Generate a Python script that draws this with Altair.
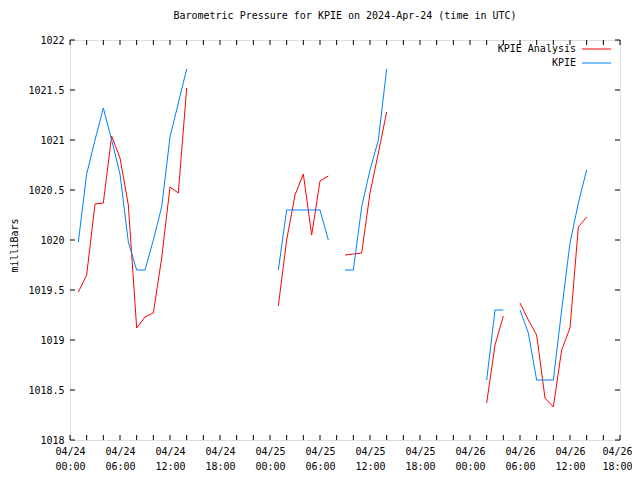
import altair as alt
import pandas as pd

FONT = "DejaVu Sans Mono"

# Hours after 2024-04-24 00:00 UTC for each continuous run of data
seg_hours = {
    "a": [1, 2, 3, 4, 5, 6, 7, 8, 9, 10, 11, 12, 13, 14],
    "b": [25, 26, 27, 28, 29, 30, 31],
    "c": [33, 34, 35, 36, 37, 38],
    "d": [50, 51, 52],
    "e": [54, 55, 56, 57, 58, 59, 60, 61, 62],
}

analysis_vals = {
    "a": [1019.48, 1019.65, 1020.36, 1020.37, 1021.04, 1020.82, 1020.35,
          1019.12, 1019.23, 1019.27, 1019.82, 1020.53, 1020.47, 1021.52],
    "b": [1019.34, 1020.0, 1020.45, 1020.66, 1020.05, 1020.59, 1020.64],
    "c": [1019.85, 1019.86, 1019.87, 1020.47, 1020.87, 1021.28],
    "d": [1018.37, 1018.95, 1019.24],
    "e": [1019.37, 1019.2, 1019.05, 1018.42, 1018.33, 1018.9, 1019.12,
          1020.13, 1020.23],
}

kpie_vals = {
    "a": [1019.98, 1020.66, 1021.0, 1021.32, 1021.0, 1020.66, 1019.98,
          1019.7, 1019.7, 1020.0, 1020.33, 1021.03, 1021.37, 1021.71],
    "b": [1019.7, 1020.3, 1020.3, 1020.3, 1020.3, 1020.3, 1020.0],
    "c": [1019.7, 1019.7, 1020.33, 1020.7, 1021.0, 1021.71],
    "d": [1018.6, 1019.3, 1019.3],
    "e": [1019.3, 1019.07, 1018.6, 1018.6, 1018.6, 1019.3, 1019.97,
          1020.37, 1020.7],
}

series_names = ["KPIE Analysis", "KPIE"]
series_colors = ["#ff0000", "#0080ff"]

x_label_hours = [0, 6, 12, 18, 24, 30, 36, 42, 48, 54, 60, 66]
x_minor_hours = list(range(0, 67, 2))
y_tick_vals = [1018, 1018.5, 1019, 1019.5, 1020, 1020.5, 1021, 1021.5, 1022]

TITLE = "Barometric Pressure for KPIE on 2024-Apr-24 (time in UTC)"


def make_df(vals, name):
    rows = []
    for seg, hrs in seg_hours.items():
        for h, v in zip(hrs, vals[seg]):
            rows.append({"hour": h, "value": v, "series": name, "seg": seg})
    return pd.DataFrame(rows)


df_an = make_df(analysis_vals, series_names[0])
df_kp = make_df(kpie_vals, series_names[1])

x_scale = alt.Scale(domain=[0, 66], nice=False, zero=False)
y_scale = alt.Scale(domain=[1018, 1022], nice=False, zero=False)

x_axis = alt.Axis(
    values=x_label_hours,
    labelExpr="['04/' + (24 + floor(datum.value / 24)), "
              "(datum.value % 24 < 10 ? '0' : '') + (datum.value % 24) + ':00']",
    title=None,
    grid=False,
    domain=False,
    ticks=False,
    labelPadding=6,
    labelLineHeight=15,
    labelFlush=False,
    labelOverlap=False,
    labelAngle=0,
    labelOffset={"condition": {"test": "datum.value == 66", "value": -3}, "value": 0},
    labelFont=FONT,
    labelFontSize=10,
    labelColor="black",
)

y_axis = alt.Axis(
    values=y_tick_vals,
    format="~f",
    title="milliBars",
    grid=False,
    domain=False,
    ticks=False,
    titleX=-56,
    titleY=205,
    titleAngle=270,
    titleAlign="center",
    titleBaseline="middle",
    titleFont=FONT,
    titleFontSize=10,
    titleFontWeight="normal",
    titleColor="black",
    labelPadding=6,
    labelFont=FONT,
    labelFontSize=10,
    labelColor="black",
)

X = alt.X("hour:Q", scale=x_scale, axis=x_axis)
Y = alt.Y("value:Q", scale=y_scale, axis=y_axis)

line_an = alt.Chart(df_an).mark_line(strokeWidth=1, color=series_colors[0]).encode(
    x=X, y=Y, detail="seg:N",
)

line_kp = alt.Chart(df_kp).mark_line(strokeWidth=1, color=series_colors[1]).encode(
    x=X, y=Y, detail="seg:N",
)

xt_df = pd.DataFrame({"hour": x_minor_hours})
yt_df = pd.DataFrame({"value": y_tick_vals})

ticks_top = alt.Chart(xt_df).mark_rule(color="black", strokeWidth=1).encode(
    x=X, y=alt.value(0), y2=alt.value(5))
ticks_bot = alt.Chart(xt_df).mark_rule(color="black", strokeWidth=1).encode(
    x=X, y=alt.value(395), y2=alt.value(400))
ticks_left = alt.Chart(yt_df).mark_rule(color="black", strokeWidth=1).encode(
    y=Y, x=alt.value(0), x2=alt.value(5))
ticks_right = alt.Chart(yt_df).mark_rule(color="black", strokeWidth=1).encode(
    y=Y, x=alt.value(545), x2=alt.value(550))

legend_layers = []
for i, (name, col) in enumerate(zip(series_names, series_colors)):
    ldf = pd.DataFrame({"name": [name]})
    ypos = 9 + 14 * i
    txt = alt.Chart(ldf).mark_text(
        align="right", baseline="middle", font=FONT, fontSize=10, color="black"
    ).encode(text="name:N", x=alt.value(506), y=alt.value(ypos))
    rl = alt.Chart(ldf).mark_rule(color=col, strokeWidth=1).encode(
        x=alt.value(512), x2=alt.value(541), y=alt.value(ypos))
    legend_layers += [txt, rl]

chart = alt.layer(
    line_an, line_kp, ticks_top, ticks_bot, ticks_left, ticks_right, *legend_layers
).properties(
    width=550,
    height=400,
    padding={"left": 62, "top": 32, "right": 12, "bottom": 32},
    autosize=alt.AutoSizeParams(type="none"),
    title=alt.TitleParams(
        text=TITLE, font=FONT, fontSize=10, fontWeight="normal",
        color="black", anchor="middle", offset=14,
    ),
).configure_view(
    stroke="black", strokeWidth=1
).configure_axis(
    grid=False, domain=False, ticks=False
).configure(background="white")

chart.save("out.html", embed_options={"renderer": "svg", "actions": False})
